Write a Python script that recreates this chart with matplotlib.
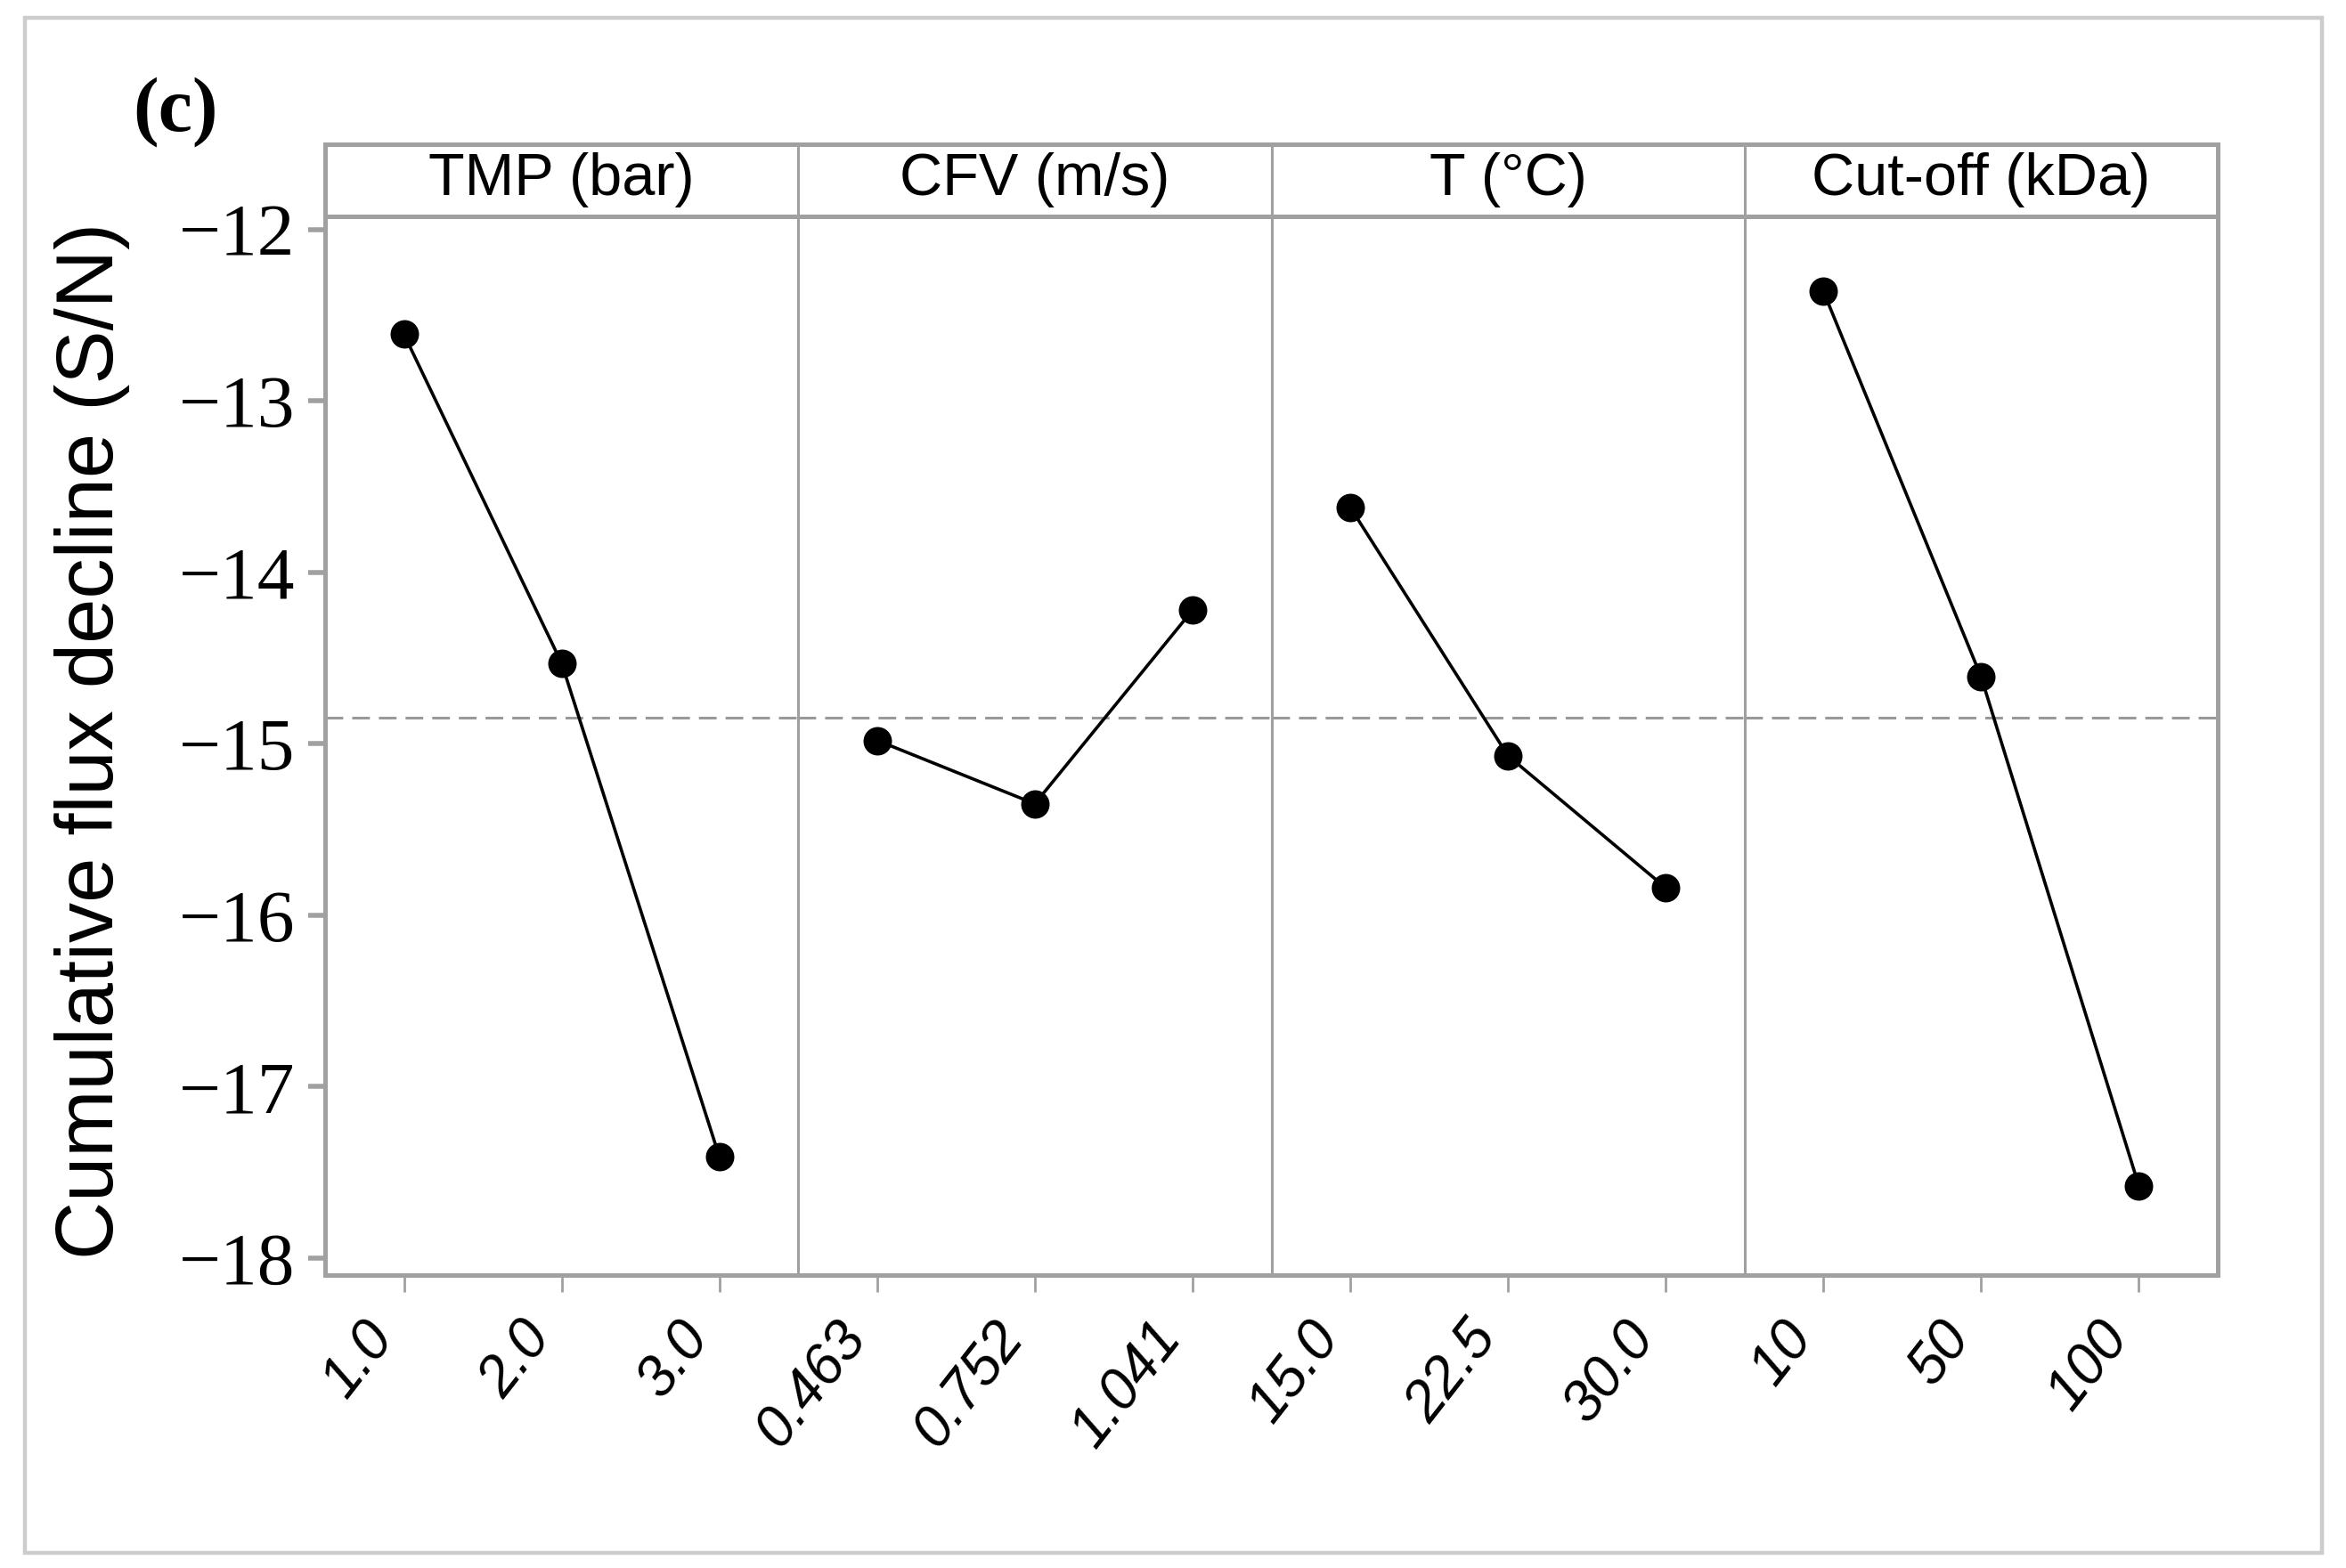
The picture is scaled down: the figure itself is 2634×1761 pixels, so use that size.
import numpy as np
import matplotlib.pyplot as plt
from matplotlib.patches import Rectangle


#===============================================================================
# DATA
#===============================================================================

FACTORS = ["TMP (bar)", "CFV (m/s)", "T (°C)", "Cut-off (kDa)"]
LEVELS = [["1.0", "2.0", "3.0"],
          ["0.463", "0.752", "1.041"],
          ["15.0", "22.5", "30.0"],
          ["10", "50", "100"]]

tmp_sn = [-12.61, -14.53, -17.41]
cfv_sn = [-14.98, -15.35, -14.22]
temp_sn = [-13.62, -15.07, -15.84]
cutoff_sn = [-12.36, -14.61, -17.58]

SERIES = [tmp_sn, cfv_sn, temp_sn, cutoff_sn]
grand_mean = np.mean(SERIES)

Y_TICKS = [-12, -13, -14, -15, -16, -17, -18]

GRAY = "#a0a0a0"


#===============================================================================
# FIGURE
#===============================================================================

W, H = 2634, 1761
fig = plt.figure(figsize=(W / 200.0, H / 200.0), dpi=200)

# outer light frame
fig.patches.append(Rectangle((28.0 / W, 1 - 1744.0 / H), (2607.0 - 28) / W,
                             (1744.0 - 20) / H, transform=fig.transFigure,
                             fill=False, edgecolor="#cccccc", linewidth=1.6))

left, right = 365.0 / W, 2490.0 / W
bottom, top = 1 - 1432.0 / H, 1 - 242.6 / H
strip_top = 1 - 161.8 / H
pw = (right - left) / 4

axes = []
for i, (name, labs, vals) in enumerate(zip(FACTORS, LEVELS, SERIES)):
    ax = fig.add_axes([left + i * pw, bottom, pw, top - bottom])
    axes.append(ax)
    x = np.arange(len(vals))
    ax.plot(x, vals, color="black", linewidth=1.3, marker="o",
            markersize=10.5, zorder=3)
    ax.axhline(grand_mean, color="#999999", linewidth=1.1,
               linestyle=(0, (6.5, 3.3)), zorder=1)
    ax.set_xlim(-0.5, 2.5)
    ax.set_ylim(-18.10, -11.92)
    ax.set_xticks(x)
    ax.set_xticklabels(labs, rotation=52, ha="right", fontsize=23,
                       family="Liberation Sans", style="italic")
    ax.tick_params(axis="x", length=7, width=1.0, color=GRAY, pad=8)
    for s in ax.spines.values():
        s.set_color(GRAY)
        s.set_linewidth(1.1)
    ax.spines["bottom"].set_linewidth(1.8)
    ax.spines["top"].set_linewidth(1.8)
    if i == 0:
        ax.spines["left"].set_linewidth(1.8)
        ax.set_yticks(Y_TICKS)
        ax.set_yticklabels(["\u2212%d" % abs(v) for v in Y_TICKS],
                           fontsize=30, family="Liberation Serif")
        ax.tick_params(axis="y", length=7, width=2.0, color=GRAY, pad=5)
    else:
        ax.set_yticks([])
    if i == 3:
        ax.spines["right"].set_linewidth(1.8)
    else:
        ax.spines["right"].set_visible(False)

    # strip with factor name
    sx = fig.add_axes([left + i * pw, top, pw, strip_top - top])
    sx.set_xticks([])
    sx.set_yticks([])
    for s in sx.spines.values():
        s.set_color(GRAY)
        s.set_linewidth(1.1)
    sx.spines["top"].set_linewidth(1.8)
    sx.spines["bottom"].set_linewidth(1.8)
    if i == 0:
        sx.spines["left"].set_linewidth(1.8)
    if i == 3:
        sx.spines["right"].set_linewidth(1.8)
    else:
        sx.spines["right"].set_visible(False)
    sx.text(0.5, 0.5, name, transform=sx.transAxes, ha="center",
            va="center", fontsize=24, family="Liberation Sans")

fig.text(104.0 / W, (bottom + top) / 2 + 0.003, "Cumulative flux decline (S/N)",
         rotation=90, ha="center", va="center", fontsize=32.5,
         family="Liberation Sans")
fig.text(197.0 / W, 1 - 126.0 / H, "(c)", ha="center", va="center",
         fontsize=31, fontweight="bold", family="Liberation Serif")

plt.savefig("out.png", dpi=200)
plt.close()
